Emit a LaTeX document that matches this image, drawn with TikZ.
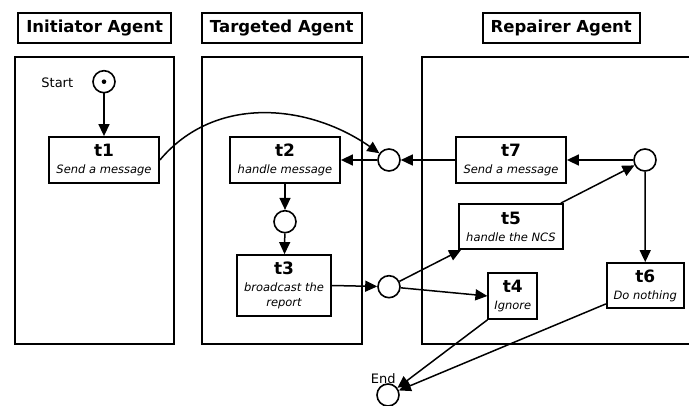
\documentclass[tikz,border=0pt]{standalone}
\usepackage{fontspec}
\setmainfont{DejaVu Sans}
\usetikzlibrary{arrows.meta}
\begin{document}
\begin{tikzpicture}[x=1pt,y=-1pt,
    lane/.style={line width=1.8pt},
    title/.style={draw,line width=1.8pt,minimum height=30pt,inner sep=0pt,font=\fontsize{16.5}{19}\selectfont\bfseries},
    trans/.style={draw,line width=1.8pt,fill=white,inner sep=0pt,align=center,font=\fontsize{11.5}{15}\selectfont\itshape},
    place/.style={draw,circle,line width=1.6pt,fill=white,minimum size=22pt,inner sep=0pt},
    arc/.style={line width=1.5pt,-{Triangle[length=12pt,width=11pt]}}]
  \useasboundingbox (0,0) rectangle (689,406);

  % swimlanes
  \node[title,minimum width=153pt] (initiator) at (94.7,28) {Initiator Agent};
  \node[title,minimum width=160pt] (targeted) at (281.7,28) {Targeted Agent};
  \node[title,minimum width=157pt] (repairer) at (561.3,28) {Repairer Agent};
  \draw[lane] (15,57.3) rectangle (174,344.3);
  \draw[lane] (201.7,57.3) rectangle (361.7,344.3);
  \draw[lane] (690,57.3) -- (422.3,57.3) -- (422.3,344.3) -- (690,344.3);

  % places
  \node[place] (pstart) at (104,81.7) {};
  \fill (pstart) circle (2.3pt);
  \node[font=\fontsize{13}{15}\selectfont] (startlbl) at (57.3,82.3) {Start};
  \node[place] (pin) at (389,160) {};
  \node[place] (prep) at (645,160) {};
  \node[place] (pmid) at (285,221.7) {};
  \node[place] (pout) at (389,286.7) {};
  \node[place] (pend) at (388,395) {};
  \node[font=\fontsize{13}{15}\selectfont] (endlbl) at (383.3,379) {End};

  % transitions
  \node[trans,minimum width=110pt,minimum height=46pt] (t1) at (104,160)
    {{\fontsize{17}{15}\selectfont\bfseries\upshape t1}\\[2pt]Send a message};
  \node[trans,minimum width=110pt,minimum height=46pt] (t2) at (285,160)
    {{\fontsize{17}{15}\selectfont\bfseries\upshape t2}\\[2pt]handle message};
  \node[trans,minimum width=94pt,minimum height=61pt] (t3) at (284,285.5)
    {{\fontsize{17}{15}\selectfont\bfseries\upshape t3}\\[2pt]broadcast the\\report};
  \node[trans,minimum width=49pt,minimum height=46pt] (t4) at (512.8,296)
    {{\fontsize{17}{15}\selectfont\bfseries\upshape t4}\\[2pt]Ignore};
  \node[trans,minimum width=104pt,minimum height=45pt] (t5) at (511,226.5)
    {{\fontsize{17}{15}\selectfont\bfseries\upshape t5}\\[2pt]handle the NCS};
  \node[trans,minimum width=77pt,minimum height=45pt] (t6) at (645.3,285.5)
    {{\fontsize{17}{15}\selectfont\bfseries\upshape t6}\\[2pt]Do nothing};
  \node[trans,minimum width=110pt,minimum height=46pt] (t7) at (511,160)
    {{\fontsize{17}{15}\selectfont\bfseries\upshape t7}\\[2pt]Send a message};

  % arcs
  \draw[arc] (pstart) -- (t1);
  \draw[arc] (t1.east) to[out=50,in=145] (pin);
  \draw[arc] (pin) -- (t2);
  \draw[arc] (t7) -- (pin);
  \draw[arc] (prep) -- (t7);
  \draw[arc] (t2) -- (pmid);
  \draw[arc] (pmid) -- (t3);
  \draw[arc] (t3.east) -- (pout);
  \draw[arc] (pout) -- ([xshift=3pt]t5.south west);
  \draw[arc] (pout) -- (t4.west);
  \draw[arc] ([xshift=-3pt]t5.north east) -- (prep);
  \draw[arc] (prep) -- (t6);
  \draw[arc] (t4.south west) -- (pend);
  \draw[arc] ([yshift=5pt]t6.south west) -- (pend);
\end{tikzpicture}
\end{document}
